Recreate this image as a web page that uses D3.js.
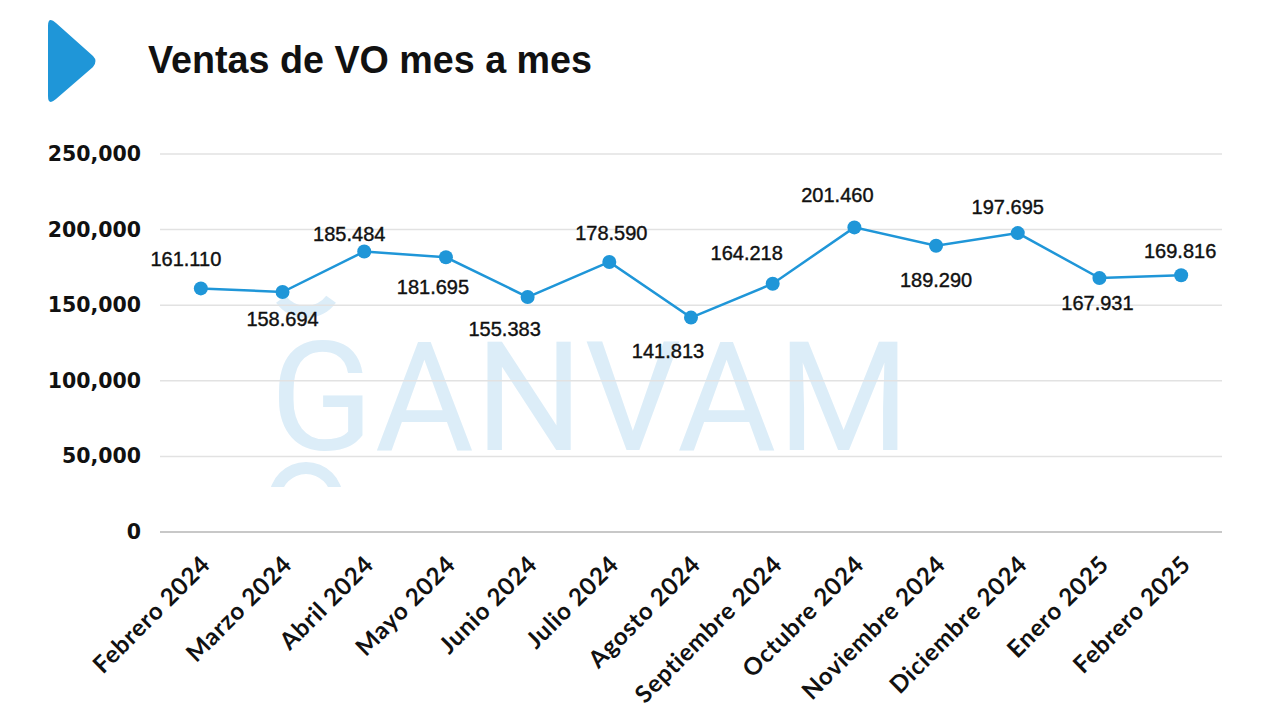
<!DOCTYPE html>
<html><head><meta charset="utf-8">
<script src="https://cdn.jsdelivr.net/npm/d3@7"></script>
<style>html,body{margin:0;padding:0;background:#fff;}svg{display:block;}</style>
</head><body>
<svg id="c" width="1280" height="720"></svg>
<script>
const categories = ["Febrero 2024","Marzo 2024","Abril 2024","Mayo 2024","Junio 2024","Julio 2024","Agosto 2024","Septiembre 2024","Octubre 2024","Noviembre 2024","Diciembre 2024","Enero 2025","Febrero 2025"];
const values = [161110,158694,185484,181695,155383,178590,141813,164218,201460,189290,197695,167931,169816];
const valueLabels = ["161.110","158.694","185.484","181.695","155.383","178.590","141.813","164.218","201.460","189.290","197.695","167.931","169.816"];
const yTicks = [0,50000,100000,150000,200000,250000];
const title = "Ventas de VO mes a mes";
const watermark = "GANVAM";
// label placement (offsets from point, in px)
const labelDx = [-15,0,-15,-13,-23,2,-23,-26,-17,0,-10,-2,-1];
const labelDy = [-29,27,-18,30,32,-29,33,-31,-32,34,-26,25,-24];

const svg = d3.select("#c");
const blue = "#1f96d8";
const margin = {left:160, right:58, top:154, bottom:188};
const W = 1280, H = 720;
const x = d3.scaleBand().domain(categories).range([margin.left, W - margin.right]);
const y = d3.scaleLinear().domain([0,250000]).range([H - margin.bottom, margin.top]);
const cx = d => x(d) + x.bandwidth()/2;

// watermark
const wm = svg.append("g").attr("fill","#dcedf8").attr("stroke","none");
wm.append("text").attr("x",270).attr("y",450).attr("textLength",640).attr("lengthAdjust","spacing")
  .attr("font-family","Roboto").attr("font-weight",400).attr("font-size",152).text(watermark);
const arcG = d3.arc();
wm.append("path").attr("transform","translate(306,281)")
  .attr("d", arcG({innerRadius:25,outerRadius:37,startAngle:Math.PI*0.7,endAngle:Math.PI*1.3}));
svg.append("clipPath").attr("id","wmclip").append("rect").attr("x",0).attr("y",0).attr("width",1280).attr("height",487);
wm.append("g").attr("clip-path","url(#wmclip)").append("path").attr("transform","translate(306,499)")
  .attr("d", arcG({innerRadius:25,outerRadius:37,startAngle:-Math.PI*0.5,endAngle:Math.PI*0.5}));

// grid
svg.append("g").selectAll("line").data(yTicks).join("line")
  .attr("x1",margin.left).attr("x2",W-margin.right)
  .attr("y1",d=>y(d)).attr("y2",d=>y(d))
  .attr("stroke",d=>d===0?"#c8c8c8":"#e2e2e2").attr("stroke-width",d=>d===0?2:1.5);

// y axis
const yAxis = svg.append("g").attr("transform",`translate(${margin.left},0)`)
  .call(d3.axisLeft(y).tickValues(yTicks).tickSize(0).tickPadding(19).tickFormat(d3.format(",")));
yAxis.select(".domain").remove();
yAxis.selectAll("text").attr("font-family","'DejaVu Sans', sans-serif").attr("font-weight",700)
  .attr("font-size",20.5).attr("fill","#111");

// x axis
const xAxis = svg.append("g").attr("transform",`translate(0,${H-margin.bottom})`)
  .call(d3.axisBottom(x).tickSize(0).tickPadding(0));
xAxis.select(".domain").remove();
xAxis.selectAll("text").attr("font-family","Lato, 'Open Sans', sans-serif").attr("font-weight",700)
  .attr("font-size",24).attr("letter-spacing","0.8px").attr("fill","#111")
  .attr("text-anchor","end").attr("dy","0.35em")
  .attr("transform","translate(5,28) rotate(-45)");

// line
svg.append("path").datum(values)
  .attr("fill","none").attr("stroke",blue).attr("stroke-width",2.5)
  .attr("d", d3.line().x((d,i)=>cx(categories[i])).y(d=>y(d)));
svg.append("g").selectAll("circle").data(values).join("circle")
  .attr("cx",(d,i)=>cx(categories[i])).attr("cy",d=>y(d)).attr("r",7).attr("fill",blue);

// value labels
svg.append("g").selectAll("text").data(values).join("text")
  .attr("x",(d,i)=>cx(categories[i])+labelDx[i]).attr("y",(d,i)=>y(d)+labelDy[i])
  .attr("text-anchor","middle").attr("dy","0.35em")
  .attr("font-family","'Liberation Sans', Arial, sans-serif").attr("font-size",20).attr("fill","#111")
  .attr("stroke","#111").attr("stroke-width",0.4)
  .text((d,i)=>valueLabels[i]);

// title & marker
svg.append("path").attr("fill",blue)
  .attr("d","M48,26 Q48,16 56,23 L93,56 Q98,61 93,67 L56,99 Q48,106 48,96 Z");
svg.append("text").attr("x",148).attr("y",73).attr("font-family","'Liberation Sans', Arial, sans-serif")
  .attr("font-weight",700).attr("font-size",38).attr("textLength",444).attr("lengthAdjust","spacingAndGlyphs")
  .attr("fill","#111").text(title);
</script>
</body></html>
